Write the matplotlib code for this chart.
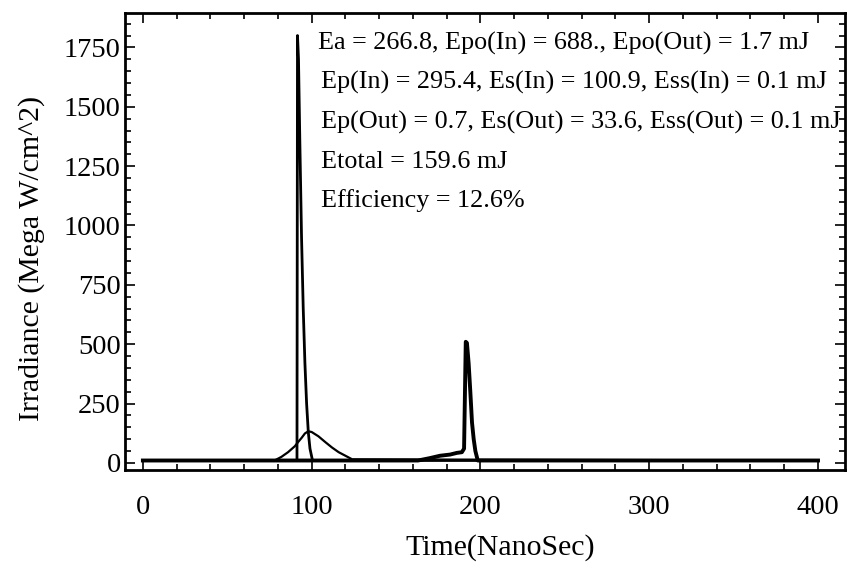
import matplotlib
matplotlib.use("Agg")
import matplotlib.pyplot as plt
from matplotlib.ticker import MultipleLocator

plt.rcParams['font.family'] = ['Liberation Serif', 'DejaVu Serif']

# Broad pump pulse (input)
pump_t = [0, 78, 82, 86, 90, 92, 94, 96, 98, 100, 104, 108, 112, 116, 120, 124, 400]
pump_I = [10, 10, 25, 45, 70, 88, 105, 124, 133, 130, 112, 88, 65, 45, 30, 15, 10]

# First Stokes spike
spike1_t = [0, 91.3, 91.6, 92.2, 93, 94, 95, 96, 97, 98, 99, 100.5, 400]
spike1_I = [10, 10, 1800, 1700, 1350, 950, 650, 420, 250, 130, 60, 10, 10]

# Second spike with its small leading bump
spike2_t = [0, 163, 170, 176, 182, 186, 189, 190.3, 191.3, 192, 193, 194, 195, 196, 197, 198.4, 400]
spike2_I = [10, 10, 20, 30, 35, 42, 45, 60, 510, 505, 420, 300, 170, 100, 50, 10, 10]

x_ticks = [0, 100, 200, 300, 400]
y_ticks = [0, 250, 500, 750, 1000, 1250, 1500, 1750]

info_lines = [
    "Ea = 266.8, Epo(In) = 688., Epo(Out) = 1.7 mJ",
    "Ep(In) = 295.4, Es(In) = 100.9, Ess(In) = 0.1 mJ",
    "Ep(Out) = 0.7, Es(Out) = 33.6, Ess(Out) = 0.1 mJ",
    "Etotal = 159.6 mJ",
    "Efficiency = 12.6%",
]

W, H = 847, 576
fig = plt.figure(figsize=(W / 100, H / 100), dpi=100)
ax = fig.add_axes([125 / W, 1 - 470 / H, (845 - 125) / W, (470 - 13) / H])

ax.plot(pump_t, pump_I, color='black', lw=1.6)
ax.plot(spike1_t, spike1_I, color='black', lw=2.0)
ax.plot(spike2_t, spike2_I, color='black', lw=2.8)

ax.set_xlim(-10.6, 416)
ax.set_ylim(-30, 1895)
ax.set_xticks(x_ticks)
ax.set_yticks(y_ticks)
ax.xaxis.set_minor_locator(MultipleLocator(20))
ax.yaxis.set_minor_locator(MultipleLocator(50))
ax.tick_params(which='both', direction='in', top=True, right=True,
               labeltop=False, labelright=False, width=1.2, color='black')
ax.tick_params(which='major', length=7)
ax.tick_params(which='minor', length=4)
ax.tick_params(axis='x', which='major', pad=18, labelsize=20.5)
ax.tick_params(axis='y', which='major', pad=3, labelsize=20.5)
for s in ax.spines.values():
    s.set_linewidth(2.0)

for i, line in enumerate(info_lines):
    x0 = 318 if i == 0 else 321
    y0 = 43 + i * 39.5
    fig.text(x0 / W, 1 - y0 / H, line, fontsize=18.8, va='center', ha='left')

fig.text(500 / W, 1 - 548 / H, "Time(NanoSec)", fontsize=21.5, ha='center', va='center')
fig.text(32 / W, 1 - 258 / H, "Irradiance (Mega W/cm^2)", fontsize=21.5,
         rotation=90, ha='center', va='center')

fig.savefig("out.png", dpi=100)
